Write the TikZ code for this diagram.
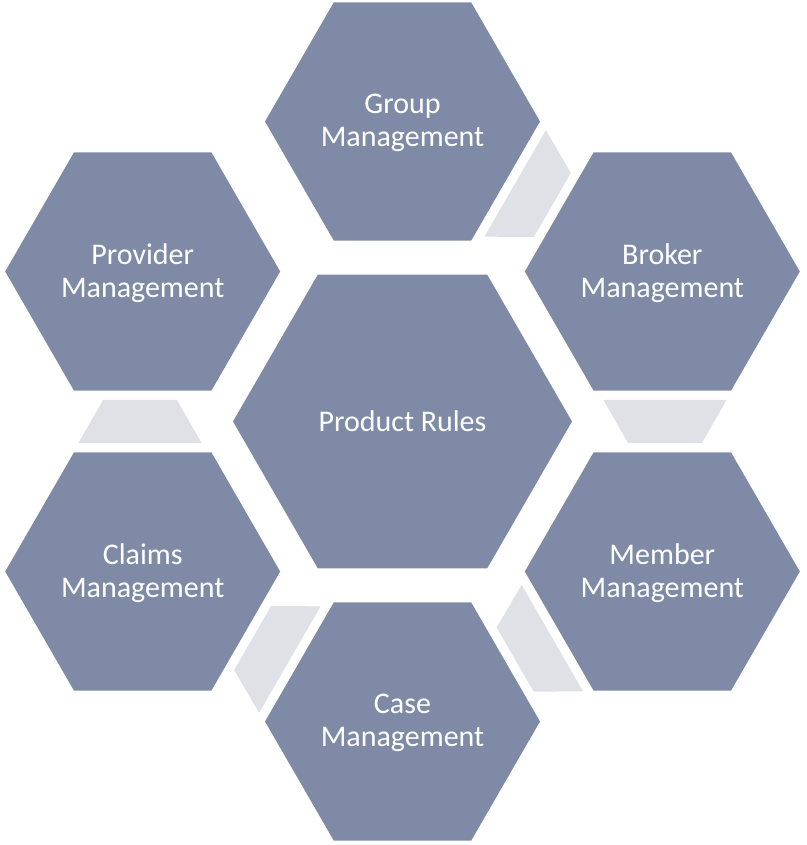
\documentclass[tikz,border=0pt]{standalone}
\usepackage{fontspec}
\setmainfont{Carlito}
\usetikzlibrary{shapes.geometric}

\definecolor{hexblue}{HTML}{7F8BA6}
\definecolor{linkgrey}{HTML}{E0E1E6}

\tikzset{
  hexa/.style={regular polygon, regular polygon sides=6, fill=hexblue,
    inner sep=0pt, outer sep=0pt, minimum size=206.25pt},
  hexbig/.style={hexa, minimum size=254.25pt},
  hextext/.style={text=white, align=center, inner sep=0pt,
    font=\fontsize{22.5}{24.75}\selectfont},
  link/.style={fill=linkgrey}
}

\begin{document}
\begin{tikzpicture}[x=0.75pt,y=0.75pt]
  \useasboundingbox (-402.5,-423.5) rectangle (403.5,421.5);

  % centre
  \node[hexbig, hextext] (rules) at (0,0) {Product Rules};

  % ring
  \foreach \n/\a/\t in {group/90/Group, broker/30/Broker, member/-30/Member,
                        case/-90/Case, claims/-150/Claims, provider/150/Provider}{
    \node[hexa] (\n) at (\a:300) {};
    \node[hextext, yshift=-1.2pt] (\n-text) at (\n) {\t\\Management};
  }

  % links between the ring
  \foreach \a in {60,0,-60,-120,180}
    \fill[link, shift={(\a:262.5)}, rotate=\a]
      (-61.5,21.5) -- (61.5,21.5) -- (37,-21.5) -- (-37,-21.5) -- cycle;
\end{tikzpicture}
\end{document}
